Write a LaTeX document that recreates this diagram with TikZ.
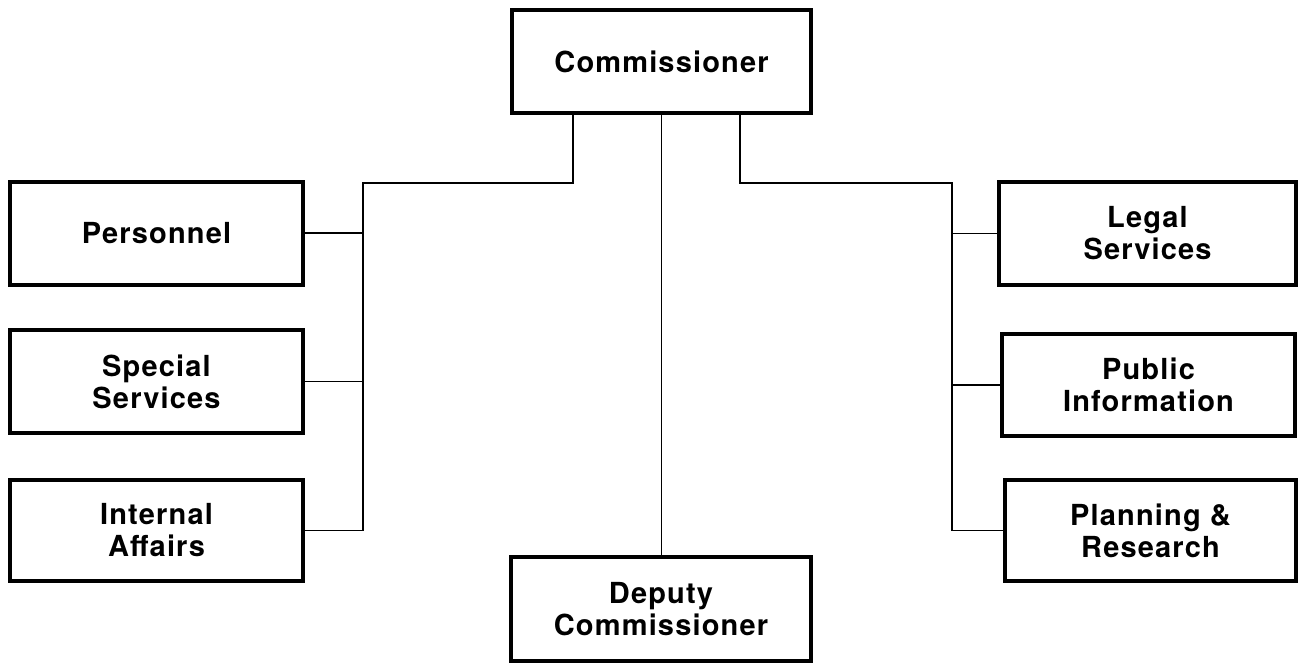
\documentclass[tikz,border=0pt]{standalone}
\usepackage{fontspec}
\setmainfont{TeX Gyre Heros}
\newfontfamily\labelfont[LetterSpace=4]{TeX Gyre Heros}
\begin{document}
\begin{tikzpicture}[x=1pt,y=-1pt,
  unitbox/.style={draw=black, line width=4pt, rectangle, inner sep=0pt,
    minimum width=293pt, minimum height=103pt, align=center,
    font=\labelfont\fontsize{29}{32}\selectfont\bfseries},
  conn/.style={draw=black, line width=1.6pt}]
\useasboundingbox (0,0) rectangle (1304,666);
\node[unitbox, minimum width=299pt] (comm) at (661.5,61.5) {Commissioner};
\node[unitbox] (pers) at (156.5,233) {Personnel};
\node[unitbox] (spec) at (156.5,381.5) {Special\\Services};
\node[unitbox, minimum height=101pt] (intl) at (156.5,530.5) {Internal\\Affairs};
\node[unitbox, minimum width=297pt] (legal) at (1147.5,233.5) {Legal\\Services};
\node[unitbox, minimum height=102pt] (publ) at (1148.5,385) {Public\\Information};
\node[unitbox, minimum width=291pt, minimum height=101pt] (plan) at (1150.5,530.5) {Planning \&\\Research};
\node[unitbox, minimum width=300pt, minimum height=104pt] (dep) at (661,609) {Deputy\\Commissioner};
\coordinate (lj) at (363,183);
\coordinate (rj) at (952,183);
\draw[conn] ([xshift=-88.5pt]comm.south) |- (lj) |- (intl.east);
\draw[conn] (pers.east) -- (pers.east -| lj);
\draw[conn] (spec.east) -- (spec.east -| lj);
\draw[conn] ([xshift=78.5pt]comm.south) |- (rj) |- (plan.west);
\draw[conn] (legal.west) -- (legal.west -| rj);
\draw[conn] (publ.west) -- (publ.west -| rj);
\draw[conn] (comm.south) -- (comm.south |- dep.north);
\end{tikzpicture}
\end{document}
